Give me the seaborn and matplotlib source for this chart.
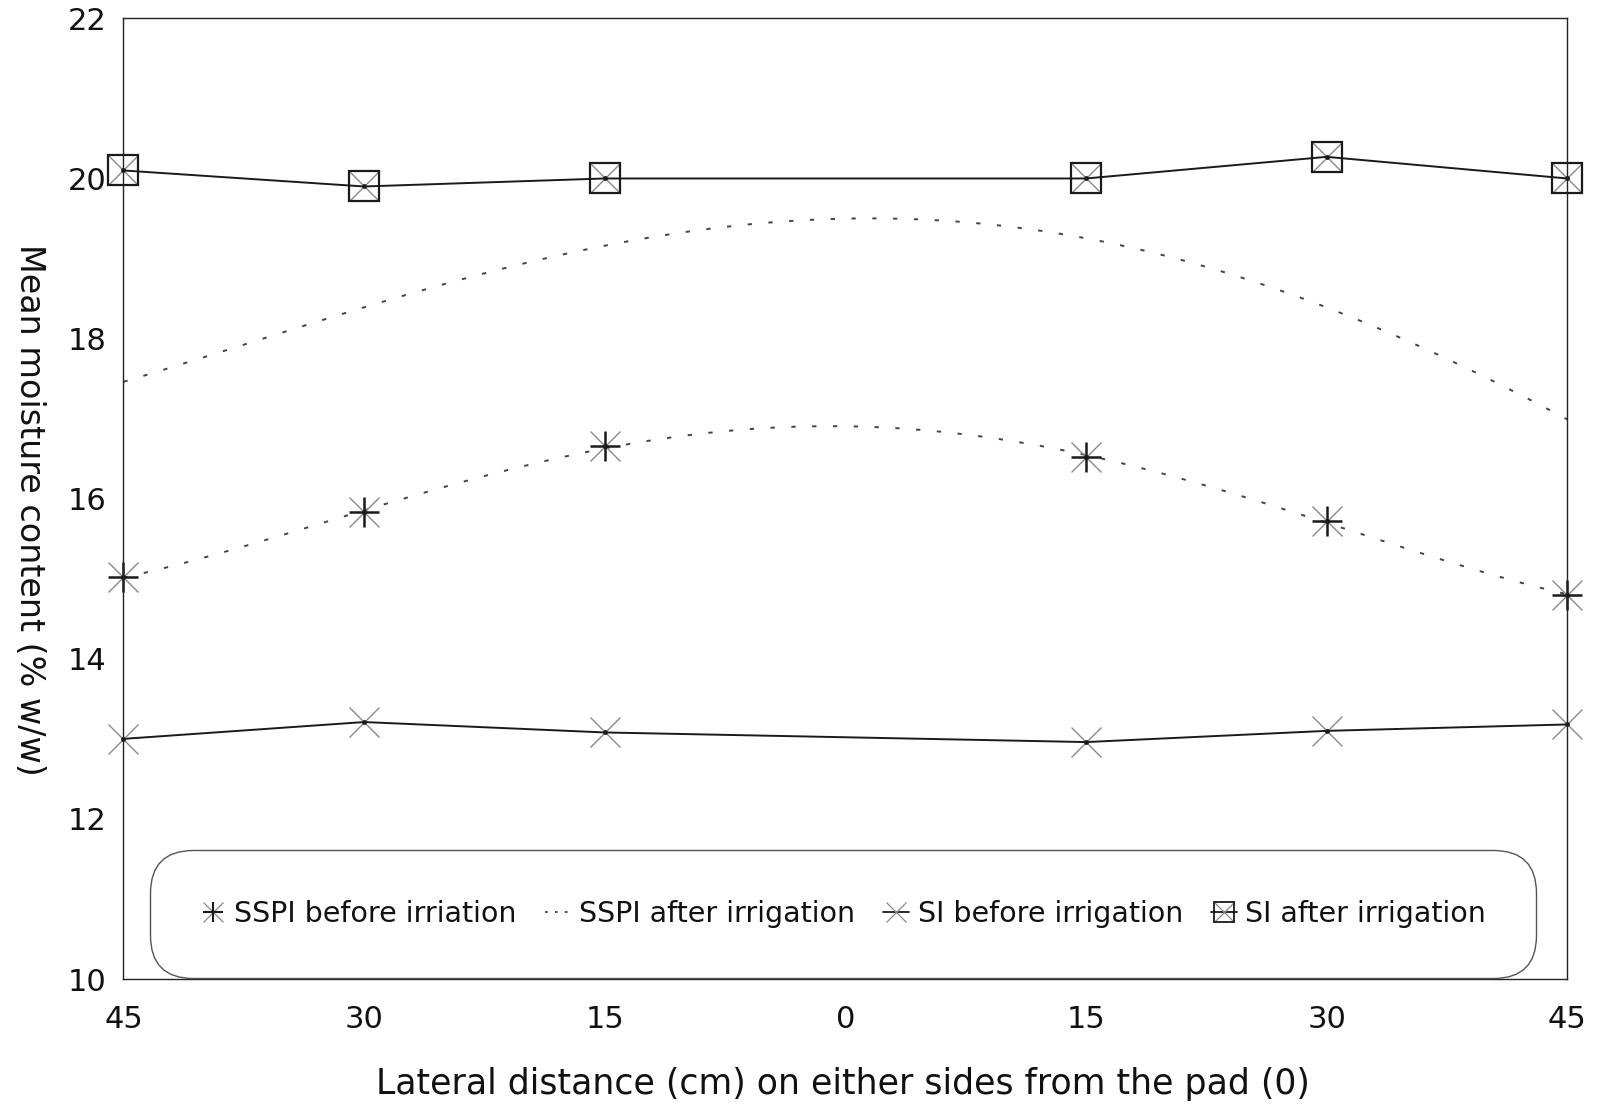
import matplotlib
matplotlib.use("Agg")
import matplotlib.pyplot as plt
from matplotlib.lines import Line2D
import numpy as np
import pandas as pd
import seaborn as sns

# Lateral positions (cm); negative = one side of the pad, positive = the other
positions = [-45, -30, -15, 0, 15, 30, 45]
tick_labels = ["45", "30", "15", "0", "15", "30", "45"]

# Sampled positions (no sample on the pad itself)
sample_positions = [-45, -30, -15, 15, 30, 45]

# Mean moisture content (% w/w)
sspi_before = [15.02, 15.83, 16.66, 16.9, 16.52, 15.72, 14.8]   # value at 0 from the fitted curve
sspi_after = [17.45, 18.43, 19.11, 19.5, 19.3, 18.35, 17.0]
si_before = [13.0, 13.21, 13.08, 12.96, 13.1, 13.18]
si_after = [20.1, 19.9, 20.0, 20.0, 20.27, 20.0]

sspi_df = pd.DataFrame({"pos": positions, "before": sspi_before, "after": sspi_after})
sspi_marks = sspi_df[sspi_df["pos"] != 0]
si_df = pd.DataFrame({"pos": sample_positions, "before": si_before, "after": si_after})

sns.set_style("white")
plt.rcParams["font.family"] = ["DejaVu Sans"]

fig = plt.figure(figsize=(15.99, 11.06), dpi=100)
ax = fig.add_axes([0.0772, 0.1148, 0.9030, 0.8686])

dark = "#1a1a1a"
light = "#8a8a8a"
dotted = (0, (2.2, 8.5))

# SSPI curves (smooth polynomial fits, dotted)
for col in ["before", "after"]:
    sns.regplot(data=sspi_df, x="pos", y=col, order=4, ci=None, scatter=False,
                truncate=True, ax=ax,
                line_kws=dict(color="#444444", lw=1.4, linestyle=dotted))

marker_kw = dict(ax=ax, linestyle="none", estimator=None, clip_on=False)

# SSPI before markers: asterisks
sns.lineplot(data=sspi_marks, x="pos", y="before", marker="x", markersize=21,
             markeredgewidth=1.0, markeredgecolor=light, color=light, **marker_kw)
sns.lineplot(data=sspi_marks, x="pos", y="before", marker="+", markersize=21,
             markeredgewidth=1.8, markeredgecolor=dark, color=dark, **marker_kw)

# SI before: solid line with x markers
sns.lineplot(data=si_df, x="pos", y="before", ax=ax, color=dark, lw=1.4,
             estimator=None, sort=True)
sns.lineplot(data=si_df, x="pos", y="before", marker="x", markersize=21,
             markeredgewidth=1.0, markeredgecolor=light, color=light, **marker_kw)

# SI after: solid line with boxed-x markers
sns.lineplot(data=si_df, x="pos", y="after", ax=ax, color=dark, lw=1.4,
             estimator=None, sort=True)
sns.lineplot(data=si_df, x="pos", y="after", marker="x", markersize=21,
             markeredgewidth=1.0, markeredgecolor=light, color=light, **marker_kw)
sns.lineplot(data=si_df, x="pos", y="after", marker="s", markersize=21,
             markeredgewidth=1.6, markerfacecolor="none", markeredgecolor=dark,
             color=dark, **marker_kw)

# centre dots on every marker
for frame_, col in [(sspi_marks, "before"), (si_df, "before"), (si_df, "after")]:
    sns.lineplot(data=frame_, x="pos", y=col, marker="o", markersize=3.5,
                 markeredgewidth=0, color=dark, **marker_kw)

ax.set_xlim(-45, 45)
ax.set_ylim(10, 22)
ax.set_xticks(positions)
ax.set_xticklabels(tick_labels)
ax.set_yticks([10, 12, 14, 16, 18, 20, 22])
ax.tick_params(axis="both", length=0, labelsize=22, colors="#111111")
ax.tick_params(axis="y", pad=12)
ax.tick_params(axis="x", pad=19)

for s in ax.spines.values():
    s.set_visible(True)
    s.set_color("#222222")
    s.set_linewidth(1.0)

ax.set_xlabel("Lateral distance (cm) on either sides from the pad (0)",
              fontsize=25, color="#111111", va="center")
ax.xaxis.set_label_coords(0.4986, -0.1093)
ax.set_ylabel("Mean moisture content (% w/w)", fontsize=24, rotation=270,
              color="#111111", va="center", ha="center")
ax.yaxis.set_label_coords(-0.0654, 0.488)

# Legend
h_sspi_b = (Line2D([], [], ls="none", marker="x", ms=15, mew=0.9, mec=light),
            Line2D([], [], ls="none", marker="+", ms=15, mew=1.5, mec=dark))
h_sspi_a = Line2D([], [], color="#444444", lw=1.3, ls=(0, (1.5, 4)))
h_si_b = (Line2D([], [], color=dark, lw=1.3),
          Line2D([], [], ls="none", marker="x", ms=15, mew=0.9, mec=light))
h_si_a = (Line2D([], [], color=dark, lw=1.3),
          Line2D([], [], ls="none", marker="x", ms=15, mew=0.9, mec=light),
          Line2D([], [], ls="none", marker="s", ms=15, mew=1.3, mfc="none", mec=dark))

leg = ax.legend([h_sspi_b, h_sspi_a, h_si_b, h_si_a],
                ["SSPI before irriation", "SSPI after irrigation",
                 "SI before irrigation", "SI after irrigation"],
                ncol=4, loc="center", bbox_to_anchor=(0.4983, 0.0677),
                fontsize=20.5, frameon=True, fancybox=True, borderpad=1.75,
                handlelength=0.9, handletextpad=0.3, columnspacing=1.0,
                labelcolor="#111111")
frame = leg.get_frame()
frame.set_edgecolor("#555555")
frame.set_linewidth(1.0)
frame.set_facecolor("white")
frame.set_alpha(1.0)
frame.set_boxstyle("round,pad=0,rounding_size=1.5")

fig.savefig("out.png", dpi=100, facecolor="white")
